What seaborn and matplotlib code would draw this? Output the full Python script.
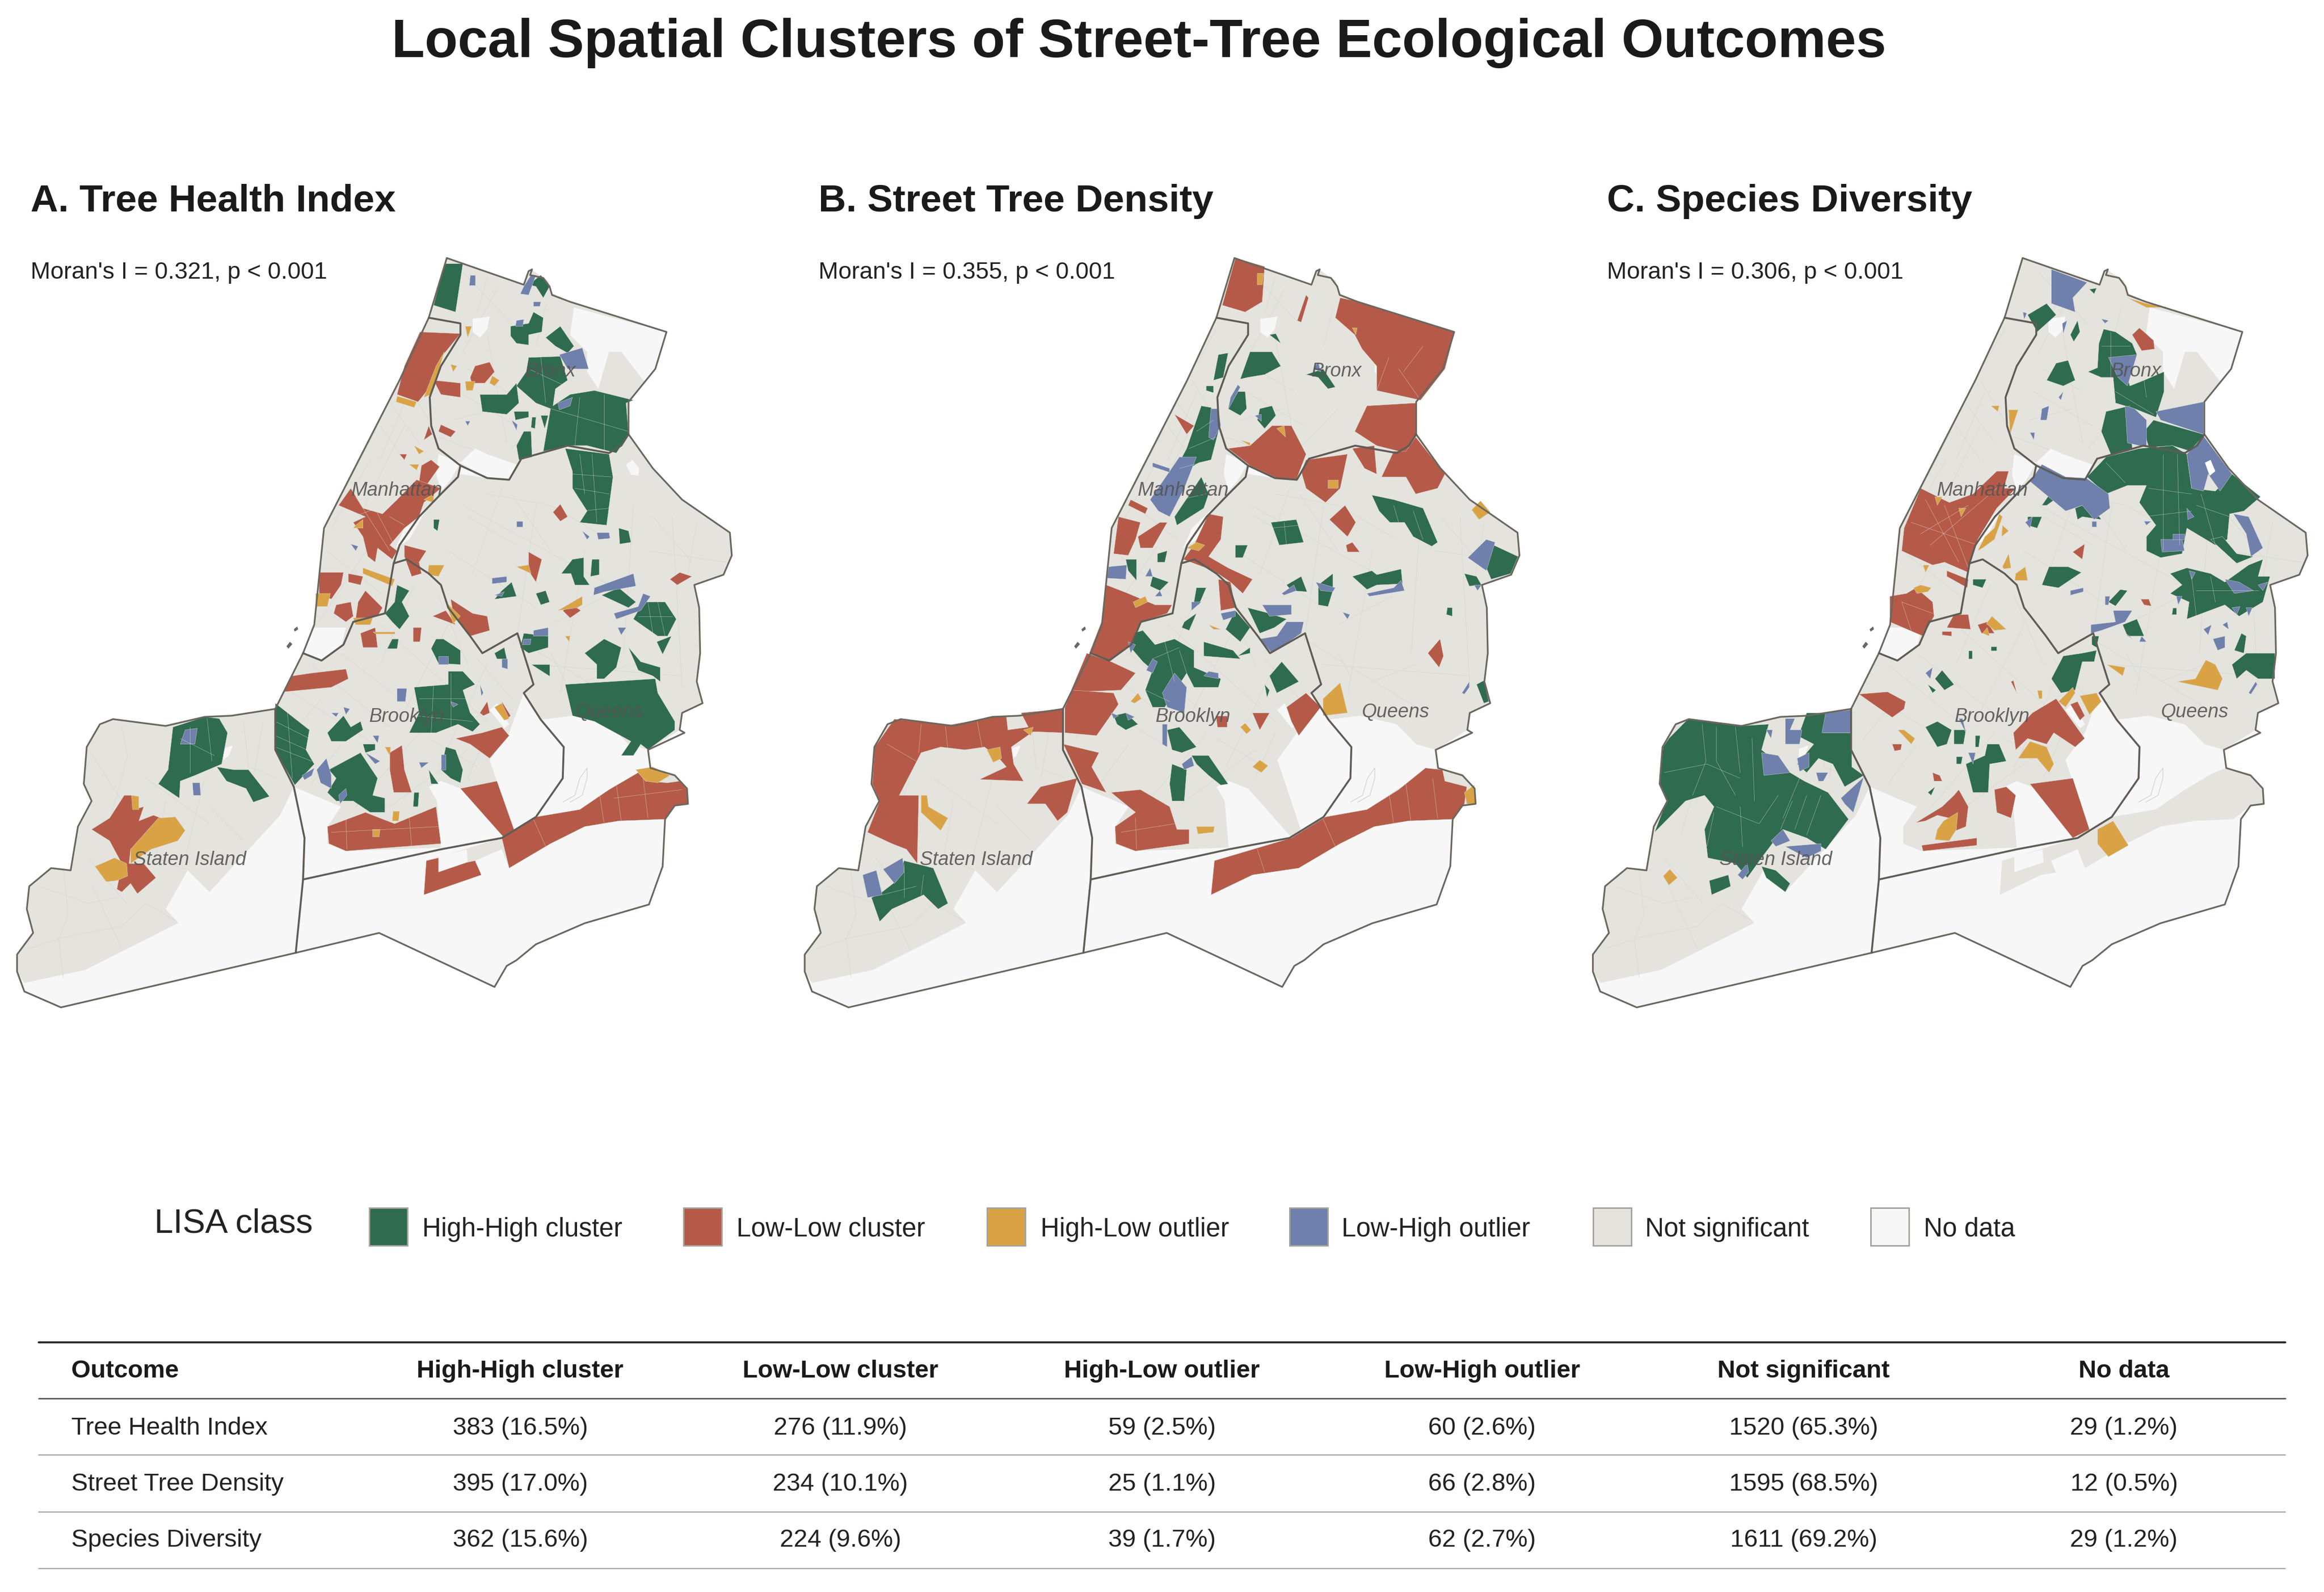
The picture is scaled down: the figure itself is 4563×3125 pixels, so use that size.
import matplotlib
matplotlib.use("Agg")
import matplotlib.pyplot as plt
from matplotlib.patches import Polygon, Rectangle
import seaborn as sns

sns.set_theme(style="white")
plt.rcParams['font.family'] = ['Liberation Sans', 'DejaVu Sans']

CLASSES = ["High-High cluster", "Low-Low cluster", "High-Low outlier", "Low-High outlier", "Not significant", "No data"]
COLORS = ["#2E6B4F", "#B55A48", "#D9A345", "#6E80AB", "#E4E3DE", "#F7F7F7"]
PAL = sns.color_palette(COLORS)
OUTCOMES = ["Tree Health Index", "Street Tree Density", "Species Diversity"]
PANEL_TITLES = ["A. Tree Health Index", "B. Street Tree Density", "C. Species Diversity"]
MORAN = ["Moran's I = 0.321, p < 0.001", "Moran's I = 0.355, p < 0.001", "Moran's I = 0.306, p < 0.001"]
TABLE_HIGH_HIGH = ["383 (16.5%)", "395 (17.0%)", "362 (15.6%)"]
TABLE_LOW_LOW = ["276 (11.9%)", "234 (10.1%)", "224 (9.6%)"]
TABLE_HIGH_LOW = ["59 (2.5%)", "25 (1.1%)", "39 (1.7%)"]
TABLE_LOW_HIGH = ["60 (2.6%)", "66 (2.8%)", "62 (2.7%)"]
TABLE_NOT_SIG = ["1520 (65.3%)", "1595 (68.5%)", "1611 (69.2%)"]
TABLE_NO_DATA = ["29 (1.2%)", "12 (0.5%)", "29 (1.2%)"]

BOROUGH_NAMES = ["Bronx", "Manhattan", "Brooklyn", "Queens", "Staten Island"]
BOROUGH_XY = [(1130, 380), (815, 590), (835, 988), (1250, 980), (390, 1240)]

OUTER = [(917,185),(1075,232),(1085,208),(1092,205),(1088,215),(1115,220),(1128,235),(1133,250),(1170,262),(1368,315),(1345,380),(1290,438),(1290,495),(1340,555),(1400,610),(1498,668),(1502,708),(1485,742),(1425,760),(1435,800),(1437,880),(1430,930),(1442,968),(1400,985),(1395,1015),(1405,1020),(1330,1050),(1335,1082),(1385,1095),(1410,1118),(1412,1145),(1385,1148),(1365,1172),(1360,1255),(1332,1322),(1200,1355),(1100,1392),(1060,1420),(1040,1430),(1015,1467),(778,1372),(607,1407),(125,1503),(50,1475),(35,1440),(35,1410),(68,1372),(55,1330),(60,1290),(105,1258),(145,1262),(160,1185),(188,1140),(172,1110),(178,1045),(205,1005),(232,996),(340,1008),(420,992),(475,990),(565,978),(622,880),(645,830),(665,660),(820,400),(880,290)]
LINE_SI = [(565,978),(565,1050),(603,1115),(625,1205),(622,1278),(607,1407)]
LINE_SOUTH = [(622,1278),(905,1225),(1030,1205),(1100,1168),(1155,1100),(1157,1045),(1110,997),(1075,950),(1095,935),(1062,845),(990,880),(965,850),(920,800),(905,760),(880,740),(835,715),(808,722),(790,810),(725,825),(705,865),(660,893),(622,880)]
LINE_EAST_MN = [(880,290),(945,300),(945,320),(905,375),(882,430),(885,480),(900,520),(945,550),(940,570),(905,600),(860,640),(820,690),(808,722)]
LINE_BX = [(945,550),(1000,572),(1045,575),(1070,538),(1165,515),(1250,528),(1275,515),(1290,495)]

LAND_BRONX = [(917,185),(1075,232),(1090,205),(1125,225),(1130,245),(1170,262),(1368,315),(1345,380),(1290,438),(1290,495),(1275,515),(1250,528),(1165,515),(1070,538),(1045,575),(1000,572),(945,550),(900,520),(885,480),(882,430),(905,375),(945,320),(945,300),(880,290)]
LAND_MANHATTAN = [(880,290),(945,300),(945,320),(905,375),(882,430),(885,480),(900,520),(945,550),(940,570),(905,600),(860,640),(820,690),(808,722),(790,810),(725,825),(705,865),(660,893),(622,880),(645,830),(665,660),(820,400)]
LAND_BROOKLYN = [(622,880),(660,893),(705,865),(725,825),(790,810),(808,722),(835,715),(880,740),(905,760),(920,800),(965,850),(990,880),(1062,845),(1095,935),(1075,950),(1045,1020),(1005,1068),(1020,1105),(1055,1195),(1030,1205),(905,1222),(710,1228),(672,1215),(672,1185),(700,1150),(603,1115),(565,1050),(565,978)]
LAND_QUEENS = [(1070,538),(1165,515),(1250,528),(1275,515),(1290,495),(1340,555),(1400,610),(1498,668),(1502,708),(1485,742),(1425,760),(1435,800),(1437,880),(1430,930),(1442,968),(1400,985),(1395,1015),(1330,1050),(1290,1040),(1250,1005),(1175,990),(1110,997),(1075,950),(1095,935),(1062,845),(990,880),(965,850),(920,800),(905,760),(880,740),(835,715),(808,722),(820,690),(860,640),(905,600),(945,565),(1000,572),(1045,575)]
LAND_ROCKAWAY = [(870,1305),(875,1245),(1030,1205),(1100,1168),(1190,1155),(1250,1120),(1305,1092),(1335,1082),(1385,1092),(1410,1118),(1412,1145),(1385,1148),(1350,1172),(1270,1175),(1200,1185),(1130,1215),(1045,1258),(955,1270)]
LAND_STATEN = [(35,1440),(35,1410),(68,1372),(55,1330),(60,1290),(105,1258),(145,1262),(160,1185),(188,1140),(172,1110),(178,1045),(205,1005),(232,996),(340,1008),(420,992),(475,990),(565,978),(565,1050),(603,1115),(575,1165),(430,1300),(365,1355),(175,1437),(50,1460)]
WHITE_PATCHES = [
 [(1178,272),(1368,315),(1345,380),(1325,405),(1275,350),(1250,350),(1228,415),(1205,385),(1205,350),(1170,320)],
 [(970,292),(1005,288),(1000,310),(985,325),(970,315)],
 [(945,545),(975,520),(1000,530),(1060,548),(1045,575),(1000,572)],
 [(900,530),(945,545),(925,575),(905,595),(895,565)],
 [(860,635),(880,620),(840,680),(812,695),(830,660)],
 [(640,835),(710,835),(700,870),(660,893),(622,880)],
 [(385,1262),(430,1300),(367,1355),(340,1330),(360,1300)],
 [(458,1048),(478,1042),(470,1060),(458,1068)],
 [(1285,548),(1298,540),(1312,555),(1310,568),(1295,566)],
 [(880,1115),(905,1105),(945,1118),(1035,1205),(905,1222),(897,1140)],
 [(1005,1068),(1048,1022),(1070,1020),(1110,997),(1157,1045),(1155,1100),(1100,1168),(1055,1195),(1020,1105)],
 [(1005,980),(1020,968),(1045,1005),(1035,1012)],
 [(900,1238),(958,1225),(960,1248),(900,1265)],
 [(975,1245),(1030,1225),(1045,1258),(988,1270)],
]
ISLANDS = [[(603,838),(610,833),(612,838),(605,842)], [(588,868),(595,860),(600,864),(592,872)]]
BAY_LINE = [(1155,1142),(1180,1130),(1190,1100),(1205,1082),(1205,1100),(1195,1130),(1170,1142)]
TRACT_LINES = [
 [(250,1010),(262,1060),(240,1130),(215,1200)],[(120,1380),(130,1450)],[(130,1262),(140,1340),(122,1380)],[(190,1290),(250,1400)],[(60,1400),(130,1380),(250,1360),(300,1320)],[(300,1320),(360,1350)],[(430,1150),(500,1210)],[(500,1000),(510,1080),(570,1100)],[(300,1100),(430,1180)],
 [(780,480),(830,540)],[(800,440),(860,510)],[(830,400),(880,470)],[(680,600),(800,680)],[(670,700),(790,780)],[(770,490),(690,620)],[(830,480),(750,620)],
 [(600,950),(770,1040)],[(640,900),(800,1010)],[(700,880),(880,1000)],[(780,830),(1000,1000)],[(850,760),(780,900)],[(920,830),(820,1000)],[(1000,900),(900,1080)],[(800,1150),(960,1050)],[(730,1150),(860,1020)],
 [(950,620),(1250,760)],[(920,700),(1100,800)],[(1000,600),(1130,620),(1250,680)],[(1100,620),(1060,860)],[(1200,700),(1150,950)],[(1300,620),(1280,880)],[(1380,640),(1400,940)],[(1100,900),(1400,920)],[(1070,860),(1300,980)],[(1330,700),(1490,720)],
 [(1000,320),(1040,510)],[(1120,270),(1100,340)],[(940,420),(1060,480)],[(900,500),(1030,540)],[(1000,220),(980,280)],
 [(1030,590),(970,740)],[(960,640),(1060,690)],[(1050,600),(1130,700)],[(1240,780),(1130,830)],[(1340,640),(1420,720)],[(1430,650),(1410,750)],[(1130,880),(1160,930)],[(1200,930),(1290,900)],
 [(700,1040),(640,1110)],[(660,960),(590,1030)],[(880,1030),(980,1080)],[(1000,1020),(960,1100)],[(980,890),(1050,960)],[(900,780),(960,900)],
 [(780,540),(840,420)],[(680,660),(760,540)],[(650,830),(760,690)],[(840,370),(880,310)],
 [(950,210),(1050,300)],[(1020,240),(950,350)],[(1130,450),(1050,520)],[(960,380),(1040,420)],[(930,470),(1020,450)],
 [(190,1060),(250,1140)],[(80,1290),(180,1320),(240,1310)],[(180,1240),(260,1320)],[(340,1140),(320,1240),(380,1260)],[(420,1100),(380,1240)],[(540,1000),(520,1100)],
]
# Faint tract outlines inside the clusters
CELLS_A = [
 [(1175,565),(1255,570)],[(1180,590),(1250,600)],[(1195,630),(1250,625)],[(1215,530),(1225,650)],[(1190,530),(1200,600)],
 [(1130,450),(1290,490)],[(1190,430),(1180,515)],[(1240,425),(1240,525)],[(1085,380),(1160,410)],[(1110,360),(1120,440)],
 [(860,960),(960,960)],[(850,990),(970,1000)],[(890,935),(885,1020)],[(925,915),(925,1010)],
 [(565,1000),(635,1030)],[(565,1025),(630,1050)],[(565,1045),(640,1070)],[(590,985),(600,1100)],
 [(730,605),(800,700)],[(760,610),(815,700)],[(800,640),(830,655)],[(725,640),(790,620)],
 [(710,1170),(712,1225)],[(680,1195),(900,1185)],[(840,1170),(845,1220)],
 [(1095,1172),(1120,1220)],[(1230,1125),(1240,1180)],[(1265,1110),(1275,1175)],[(1320,1100),(1330,1170)],[(1260,1135),(1400,1120)],
 [(370,1030),(440,1060)],[(390,1010),(390,1090)],[(425,995),(435,1070)],
 [(1330,790),(1340,845)],[(1350,790),(1365,850)],[(1310,815),(1380,815)],
]
CELLS_B = [
 [(820,520),(875,500)],[(835,490),(870,470)],[(800,555),(865,540)],[(800,610),(855,600)],[(990,660),(1045,655)],[(1015,650),(1020,690)],
 [(1095,1172),(1120,1220)],[(1230,1125),(1240,1180)],[(1265,1110),(1275,1175)],[(1320,1100),(1330,1170)],[(960,1225),(975,1265)],
 [(270,1005),(265,1055)],[(200,1040),(260,1070)],[(320,1010),(325,1050)],[(385,1000),(395,1045)],
 [(1230,360),(1205,418)],[(1260,385),(1300,340)],[(1295,435),(1250,380)],
 [(745,890),(800,870)],[(770,860),(790,930)],[(800,875),(815,915)],[(730,945),(780,965)],
 [(235,1250),(235,1310)],[(275,1270),(270,1305)],[(190,1305),(260,1290)],
 [(1240,620),(1250,650)],[(1280,630),(1300,680)],[(710,1170),(712,1225)],[(680,1195),(790,1180)],
]
CELLS_C = [
 [(260,1005),(268,1070),(240,1130)],[(290,1010),(290,1070),(330,1130)],[(330,1010),(340,1090)],[(180,1090),(270,1075),(340,1100)],[(365,1030),(370,1140)],[(290,1150),(380,1180),(420,1130)],[(285,1160),(270,1220)],[(340,1150),(345,1220)],[(450,1140),(425,1190)],[(480,1130),(455,1190)],[(510,1130),(480,1200)],[(470,1090),(430,1170)],
 [(1200,590),(1290,600)],[(1190,640),(1290,630)],[(1230,530),(1230,700)],[(1260,530),(1265,690)],[(1310,600),(1340,690)],[(1110,545),(1150,580)],[(1300,620),(1370,640)],
 [(700,650),(840,690)],[(730,610),(800,720)],[(770,620),(820,730)],[(720,670),(820,620)],[(740,690),(880,590)],[(680,790),(745,810)],[(680,790),(700,840)],
 [(1130,420),(1210,460)],[(1190,400),(1195,430)],[(1100,340),(1160,340)],[(1120,315),(1120,400)],
 [(1290,745),(1300,815)],[(1330,745),(1340,790)],[(1300,770),(1430,770)],
]

# ---- Panel A, in its own crop coordinates
A_GREEN = [
 [(913,195),(950,195),(935,280),(890,268)],[(1085,232),(1110,215),(1128,235),(1115,255),(1100,235)],
 [(1048,305),(1085,300),(1095,280),(1115,290),(1112,315),(1085,320),(1085,338),(1060,335),(1048,322)],
 [(1120,325),(1150,305),(1178,340),(1165,352),(1140,340)],
 [(1085,360),(1150,358),(1165,400),(1140,415),(1135,445),(1170,425),(1220,418),(1300,435),(1285,440),(1290,495),(1265,528),(1205,515),(1165,515),(1115,525),(1130,450),(1100,440),(1060,410),(1080,385)],
 [(985,425),(1040,425),(1060,405),(1065,440),(1040,460),(990,455)],[(1055,455),(1085,455),(1085,465),(1058,470)],
 [(1075,490),(1090,490),(1092,535),(1065,540),(1060,515)],[(1092,465),(1100,465),(1098,485),(1090,483)],[(1110,462),(1125,462),(1118,485)],
 [(1160,520),(1250,530),(1258,570),(1245,655),(1190,650),(1205,630),(1175,590),(1175,560)],
 [(1270,660),(1290,665),(1295,685),(1272,688)],[(890,645),(902,645),(898,665),(890,660)],
 [(1175,715),(1198,712),(1198,745),(1210,760),(1180,760),(1172,740),(1152,740)],[(1215,715),(1230,715),(1230,742),(1212,745)],
 [(1030,770),(1050,755),(1060,780),(1015,785)],[(1100,775),(1120,770),(1128,790),(1110,795)],
 [(1320,790),(1365,790),(1388,820),(1370,850),(1350,850),(1300,820)],[(1270,765),(1305,790),(1290,800),(1235,778)],
 [(1348,860),(1378,850),(1360,882)],[(1200,880),(1240,855),(1275,870),(1265,905),(1240,925),(1225,925),(1225,900)],
 [(1290,870),(1315,895),(1355,905),(1355,930),(1340,920),(1310,910)],
 [(1160,935),(1345,925),(1350,950),(1385,1000),(1385,1015),(1330,1050),(1315,1040),(1300,1060),(1275,1060),(1295,1035),(1220,1000),(1175,990)],
 [(1090,900),(1128,900),(1128,920)],[(1075,845),(1125,850),(1125,870),(1085,880),(1068,870)],[(1015,880),(1035,870),(1040,890),(1020,890)],
 [(815,760),(840,770),(825,790),(840,815),(820,838),(805,825),(790,810),(810,790)],[(895,855),(910,855),(945,875),(945,900),(900,898),(885,872)],
 [(850,940),(920,935),(920,912),(950,912),(975,935),(950,945),(965,985),(985,1005),(970,1018),(940,1005),(895,1020),(840,1020),(860,985)],
 [(672,1020),(705,990),(720,1010),(740,1000),(745,1015),(710,1035),(680,1035)],[(565,968),(635,1015),(628,1050),(645,1075),(605,1112),(565,1050)],
 [(675,1085),(740,1055),(775,1100),(765,1130),(790,1135),(790,1160),(760,1160),(725,1140),(690,1140),(672,1125),(690,1100)],
 [(745,1040),(770,1040),(770,1050),(750,1055)],[(915,1045),(935,1050),(950,1085),(945,1108),(925,1100),(905,1085)],[(880,1085),(900,1110),(885,1110)],
 [(850,1125),(860,1125),(858,1150),(848,1150)],[(805,855),(818,855),(815,872),(795,872)],
 [(355,1010),(420,992),(450,995),(467,1020),(455,1075),(400,1095),(370,1105),(368,1135),(325,1110),(345,1085)],
 [(445,1080),(480,1085),(510,1085),(553,1132),(520,1142),(505,1118),(465,1105)],
]
A_RED = [
 [(862,315),(945,318),(905,360),(875,420),(858,438),(815,425),(830,375)],[(890,400),(945,405),(945,430),(905,425)],
 [(965,395),(975,375),(1005,368),(1015,385),(995,405),(968,405)],[(880,480),(887,495),(870,505)],[(905,478),(935,490),(925,500),(900,490)],
 [(820,530),(835,530),(830,540)],[(865,550),(885,540),(902,552),(875,585),(860,580)],
 [(720,590),(745,625),(785,635),(815,610),(855,575),(905,590),(870,615),(860,640),(830,660),(800,690),(815,700),(805,715),(775,695),(770,720),(755,710),(745,675),(725,650),(750,640),(695,620)],
 [(830,690),(875,700),(860,720),(865,740),(845,745),(830,710)],[(655,738),(705,738),(700,760),(680,785),(655,775)],[(715,740),(745,745),(740,760),(715,755)],
 [(690,795),(720,790),(725,815),(710,825),(685,810)],[(735,790),(750,770),(785,800),(775,815),(730,820)],[(740,845),(770,835),(775,870),(745,870)],[(848,835),(865,835),(862,860),(848,860)],
 [(925,785),(970,810),(1000,815),(1005,840),(965,850),(930,810)],[(888,815),(915,805),(935,830)],[(1085,702),(1112,715),(1100,755),(1085,735)],
 [(1135,632),(1150,618),(1165,640),(1150,648)],[(1375,750),(1395,738),(1420,745),(1390,760)],[(1155,805),(1175,795),(1192,805),(1170,818)],
 [(583,948),(600,920),(640,915),(710,908),(715,925),(680,940)],[(800,1055),(825,1042),(830,1085),(845,1125),(808,1125),(800,1085)],
 [(935,1030),(990,1020),(1030,1010),(1045,1025),(1005,1065),(965,1040)],[(1030,965),(1048,990),(1038,998)],[(985,985),(1000,965),(1005,985),(992,990)],
 [(672,1185),(750,1160),(810,1180),(895,1150),(905,1215),(710,1228),(675,1215)],[(945,1118),(1020,1105),(1057,1195),(1035,1205)],
 [(1045,1258),(1030,1205),(1100,1168),(1190,1155),(1250,1120),(1310,1090),(1325,1105),(1370,1108),(1395,1105),(1410,1120),(1412,1145),(1385,1148),(1365,1172),(1270,1175),(1200,1185),(1130,1215)],
 [(870,1305),(875,1245),(900,1240),(900,1265),(958,1248),(975,1245),(988,1270)],
 [(255,1130),(270,1130),(275,1155),(295,1150),(285,1175),(315,1165),(330,1170),(285,1215),(268,1225),(265,1250),(295,1250),(320,1275),(282,1303),(268,1285),(250,1300),(240,1295),(250,1250),(225,1210),(188,1190),(225,1170)],
]
A_GOLD = [
 [(912,350),(885,425),(870,430),(895,375)],[(815,428),(855,438),(850,448),(813,438)],[(955,402),(975,402),(970,418),(957,418)],[(1010,392),(1025,400),(1015,410),(1005,405)],
 [(955,305),(968,305),(960,325)],[(925,372),(938,375),(930,385)],[(850,515),(870,525),(860,530)],[(840,548),(860,548),(855,558)],[(745,730),(810,750),(805,762),(745,740)],
 [(648,775),(678,775),(672,798),(648,798)],[(725,818),(765,818),(760,830),(730,830)],[(765,842),(810,842),(810,846),(770,846)],[(880,725),(912,725),(900,745),(878,742)],
 [(1060,728),(1085,725),(1090,740)],[(1145,805),(1175,790),(1195,780),(1195,795),(1185,800)],[(1160,850),(1170,850),(1168,860)],[(1015,975),(1030,968),(1045,995),(1035,998)],
 [(270,1130),(285,1132),(285,1155),(272,1155)],[(325,1170),(360,1168),(380,1192),(365,1210),(310,1225),(268,1250),(268,1225)],[(195,1255),(235,1240),(260,1250),(262,1272),(240,1280),(218,1282)],
 [(807,1158),(820,1158),(818,1175),(805,1175)],[(1305,1085),(1340,1080),(1375,1095),(1350,1108),(1325,1105)],[(765,1190),(780,1190),(778,1203),(765,1203)],[(730,655),(745,645),(745,660),(725,660)],
 [(915,790),(945,815),(930,828)],[(790,1045),(802,1045),(800,1060)],[(870,610),(890,600),(890,615)],
]
A_BLUE = [
 [(1148,355),(1195,343),(1208,380),(1165,380)],[(1075,235),(1090,215),(1100,215),(1085,250),(1068,248)],[(965,215),(975,215),(975,233),(963,233)],[(1095,262),(1110,262),(1108,270),(1095,270)],
 [(1060,295),(1075,293),(1073,305),(1058,305)],[(1145,440),(1175,430),(1170,445),(1148,452)],[(1050,470),(1062,478),(1060,488)],[(955,472),(965,472),(960,480)],[(1060,648),(1072,648),(1072,658),(1060,658)],
 [(1010,748),(1040,745),(1040,755),(1010,758)],[(1015,778),(1035,772),(1030,780)],[(1225,668),(1250,668),(1252,678),(1228,680)],[(1195,665),(1210,675),(1205,680)],
 [(1220,765),(1300,740),(1305,762),(1240,772),(1218,778)],[(1260,810),(1310,798),(1320,775),(1335,780),(1315,805),(1265,820)],[(1268,835),(1285,835),(1275,848)],[(1075,855),(1090,855),(1088,865),(1072,865)],
 [(1095,840),(1125,835),(1125,850),(1095,850)],[(1030,890),(1042,890),(1042,908),(1030,905)],[(900,885),(920,885),(920,900),(900,900)],[(370,1040),(380,1015),(405,1012),(400,1040)],[(395,1108),(410,1108),(412,1130),(397,1130)],
 [(650,1085),(670,1065),(680,1095),(680,1118),(658,1108)],[(695,1130),(710,1118),(712,1130),(698,1145)],[(620,1095),(645,1082),(640,1095),(625,1103)],[(680,985),(695,985),(690,992)],[(705,975),(718,978),(710,988)],
 [(815,942),(835,942),(832,965),(815,965)],[(985,935),(992,950),(988,955)],[(765,1025),(778,1025),(775,1038)],[(750,1055),(780,1070),(770,1075)],[(860,1072),(880,1072),(865,1082)],[(905,1058),(915,1058),(915,1085),(905,1085)],[(720,688),(735,692),(730,700)],[(925,965),(940,970),(930,975)],
]
# ---- Panel B, in its own crop coordinates
B_GREEN = [
 [(1195,602),(1240,610),(1300,625),(1330,685),(1318,692),(1280,675),(1262,650),(1232,650),(1210,630)],[(988,650),(1040,645),(1055,685),(1005,690)],[(915,690),(940,690),(930,712),(915,712)],
 [(1155,745),(1195,735),(1205,742),(1255,732),(1258,758),(1205,760),(1185,768)],[(1020,760),(1050,745),(1062,772),(1030,770)],[(1085,760),(1115,740),(1115,770),(1105,798),(1085,795)],
 [(1430,705),(1445,690),(1495,710),(1480,740),(1440,750),(1430,730)],[(1385,740),(1410,745),(1420,760),(1395,762)],[(1350,800),(1360,800),(1360,815),(1348,812)],[(1410,935),(1425,928),(1435,965),(1425,968)],
 [(880,355),(900,352),(890,395),(870,400)],[(855,410),(870,410),(870,422),(855,418)],[(945,350),(990,350),(1008,375),(975,390),(940,395),(925,398)],[(920,420),(935,420),(938,450),(925,462),(900,450)],
 [(965,450),(990,445),(998,462),(975,485),(960,470)],[(985,320),(998,318),(1008,335)],[(1060,390),(1095,380),(1120,412),(1105,415),(1085,395)],
 [(845,445),(865,448),(880,490),(865,540),(840,545),(810,560),(790,560),(815,520)],[(790,640),(845,570),(860,600),(850,625),(795,655)],[(745,610),(770,590),(760,630)],
 [(690,715),(712,715),(712,752),(695,735)],[(755,705),(775,700),(770,720),(755,720)],[(745,745),(778,755),(760,770),(740,762)],
 [(705,845),(725,840),(750,865),(790,855),(830,875),(830,905),(885,925),(880,940),(830,940),(815,915),(770,975),(745,975),(730,945),(745,910),(725,895),(700,870)],
 [(850,860),(910,875),(925,890),(850,885)],[(920,885),(945,870),(945,880)],[(915,805),(945,835),(925,860),(895,838)],[(940,800),(985,810),(1020,820),(995,835),(965,845)],
 [(835,765),(855,765),(840,795),(830,790)],[(810,825),(835,810),(820,840),(805,835)],[(985,920),(1010,895),(1045,930),(1000,950)],[(975,935),(985,945),(980,958)],[(665,990),(690,985),(715,1005),(690,1015),(672,1005)],
 [(775,1015),(800,1010),(835,1045),(805,1055),(785,1050)],[(825,1060),(860,1060),(900,1110),(885,1112),(860,1095),(835,1075)],[(785,1075),(815,1085),(810,1140),(785,1140),(780,1110)],
 [(235,1245),(295,1258),(325,1320),(305,1330),(275,1305),(210,1330),(185,1352),(168,1310),(190,1300),(220,1280)],
]
B_RED = [
 [(915,185),(975,200),(970,262),(935,280),(888,268)],[(1130,255),(1170,262),(1365,315),(1345,380),(1295,435),(1205,418),(1205,375),(1175,345),(1160,320),(1120,290)],[(1060,250),(1065,255),(1050,298),(1042,295)],
 [(1185,445),(1285,440),(1285,495),(1265,528),(1205,515),(1160,490)],[(900,520),(945,515),(990,480),(1030,480),(1060,530),(1040,575),(1000,572),(945,550)],
 [(1060,540),(1145,530),(1130,590),(1100,615),(1060,590),(1050,560)],[(1155,520),(1200,515),(1205,565),(1180,555)],[(1215,570),(1240,525),(1265,525),(1285,500),(1345,565),(1330,590),(1285,600),(1265,570)],
 [(1108,645),(1140,620),(1162,650),(1145,675)],[(1142,690),(1155,685),(1170,702),(1145,702)],[(1310,880),(1335,855),(1342,885),(1333,905)],[(880,750),(905,755),(915,800),(885,805)],
 [(808,715),(830,690),(860,635),(890,640),(885,680),(860,710),(900,730),(950,750),(930,775),(905,755),(870,735)],[(790,460),(830,480),(815,495)],[(665,705),(675,640),(720,650),(710,680),(695,708)],
 [(715,675),(760,650),(775,650),(745,695),(720,695)],[(700,610),(735,625),(730,635),(695,620)],[(640,825),(650,760),(695,775),(750,795),(785,795),(775,810),(720,825),(705,860),(660,893),(615,880)],
 [(578,945),(610,880),(660,895),(685,905),(710,915),(680,945),(590,948)],[(565,975),(580,945),(665,950),(675,970),(630,1025),(565,1020)],[(562,1040),(635,1055),(620,1080),(650,1125),(600,1110)],
 [(660,1125),(720,1120),(780,1150),(795,1190),(820,1190),(820,1215),(710,1228),(670,1215),(668,1185),(710,1160)],[(1020,975),(1060,950),(1090,975),(1045,1025),(1030,1000)],
 [(875,990),(898,990),(898,1010),(878,1010)],[(950,985),(985,985),(965,1015)],
 [(865,1305),(872,1245),(1030,1205),(1100,1168),(1185,1155),(1250,1120),(1305,1082),(1340,1085),(1345,1105),(1390,1115),(1385,1145),(1362,1172),(1270,1175),(1200,1185),(1130,1215),(1045,1258),(950,1270)],
 [(175,1045),(215,996),(330,1006),(420,992),(445,992),(448,1015),(490,1010),(475,985),(560,978),(560,1020),(500,1018),(455,1045),(460,1075),(480,1105),(390,1102),(445,1080),(430,1065),(400,1045),(360,1050),(310,1045),(270,1055),(225,1130),(265,1130),(262,1250),(240,1225),(210,1215),(160,1195),(185,1140),(170,1110)],
 [(487,1145),(515,1115),(590,1100),(570,1160),(550,1175),(525,1145)],
]
B_GOLD = [
 [(1400,628),(1418,612),(1438,632),(1415,645)],[(960,212),(973,212),(970,232),(960,232)],[(1155,308),(1165,308),(1162,320)],[(925,505),(945,510),(945,515)],[(1000,485),(1015,480),(1018,500)],
 [(705,790),(730,780),(735,790),(710,800)],[(815,695),(835,685),(852,690),(840,700)],[(860,830),(885,838),(870,838)],[(700,965),(715,950),(722,960),(708,968)],[(925,1010),(935,1003),(947,1015),(938,1022)],
 [(950,1080),(965,1068),(982,1078),(968,1090)],[(835,1185),(872,1185),(870,1195),(838,1198)],[(1095,960),(1130,932),(1145,985),(1095,990)],[(1105,575),(1125,575),(1125,590),(1105,590)],[(1385,1125),(1405,1112),(1410,1145),(1390,1145)],
 [(405,1050),(432,1045),(435,1065),(418,1072)],[(270,1130),(282,1130),(285,1150),(325,1170),(310,1192),(270,1160)],[(480,1015),(500,1010),(495,1025)],
]
B_BLUE = [
 [(740,610),(800,535),(835,535),(810,590),(780,640),(757,630)],[(745,545),(780,555),(780,562),(745,552)],[(865,450),(880,450),(885,480),(870,505),(860,500)],[(655,728),(692,725),(690,750),(652,748)],
 [(955,462),(968,460),(968,472)],[(905,430),(920,408),(925,412),(900,452)],[(1075,380),(1085,368),(1090,385)],[(1010,775),(1035,760),(1040,770),(1015,778)],[(1080,755),(1120,765),(1115,772),(1090,770)],
 [(1185,775),(1240,765),(1255,752),(1262,770),(1190,780)],[(1392,712),(1430,680),(1448,685),(1430,735)],[(1405,760),(1420,760),(1412,770)],[(1135,808),(1150,812),(1145,820)],[(1380,950),(1395,930),(1395,940),(1385,952)],
 [(885,810),(915,805),(915,815),(890,822)],[(970,795),(1030,795),(1030,812),(985,815)],[(965,855),(1000,850),(1020,825),(1055,825),(1050,845),(990,880)],[(765,950),(790,915),(815,940),(810,985),(775,975)],
 [(860,912),(880,915),(880,925),(850,920)],[(745,890),(755,895),(745,915),(732,910)],[(695,860),(710,865),(700,880)],[(825,790),(845,790),(825,805)],[(740,730),(745,745),(730,745)],[(760,770),(765,780),(750,780)],
 [(150,1270),(178,1262),(190,1305),(160,1310)],[(192,1260),(232,1240),(235,1265),(215,1285)],[(765,1005),(775,1005),(775,1045),(765,1040)],[(805,1075),(825,1062),(830,1078),(810,1085)],[(660,985),(675,990),(665,995)],[(690,985),(708,992),(695,998)],
]
# ---- Panel C, in its own crop coordinates
C_GREEN = [
 [(190,1030),(230,996),(340,1008),(400,1005),(385,1050),(445,1090),(475,1105),(525,1125),(568,1172),(520,1225),(480,1205),(430,1190),(385,1240),(355,1275),(330,1250),(272,1240),(265,1190),(285,1150),(265,1130),(225,1140),(160,1195),(185,1140),(170,1110),(178,1045)],
 [(465,1020),(480,985),(525,985),(515,1020),(575,1020),(575,1080),(600,1095),(560,1115),(535,1075),(505,1065),(480,1090),(460,1075),(495,1040),(460,1025)],
 [(275,1280),(315,1270),(320,1290),(280,1305)],[(385,1255),(415,1262),(445,1285),(435,1300),(395,1275)],
 [(945,285),(985,265),(1005,285),(965,315)],[(1035,320),(1050,295),(1055,315),(1042,332)],[(985,400),(1005,370),(1030,365),(1045,400),(1020,410)],
 [(1072,385),(1092,378),(1095,335),(1105,310),(1130,315),(1165,335),(1175,355),(1150,380),(1160,410),(1190,400),(1232,385),(1232,420),(1215,465),(1170,450),(1130,440),(1125,395),(1100,395)],
 [(1075,240),(1090,238),(1085,248)],[(1110,455),(1160,445),(1165,520),(1120,530),(1100,490)],[(1190,490),(1210,470),(1315,495),(1300,528),(1250,515),(1200,518)],
 [(1070,570),(1110,535),(1180,520),(1250,515),(1280,530),(1290,590),(1340,595),(1375,565),(1435,605),(1400,630),(1370,635),(1365,680),(1340,690),(1280,660),(1270,705),(1225,712),(1195,700),(1195,675),(1215,655),(1180,615),(1195,585),(1155,585),(1110,600)],
 [(975,620),(1000,590),(1010,605),(985,620)],[(1045,625),(1075,615),(1100,645),(1060,640),(1050,645)],[(975,760),(990,728),(1030,728),(1058,738),(1010,765)],[(945,640),(975,640),(965,660),(945,655)],
 [(1330,680),(1355,675),(1385,705),(1420,710),(1385,722)],
 [(1245,740),(1280,730),(1330,740),(1360,755),(1410,725),(1440,715),(1430,745),(1455,745),(1440,790),(1420,800),(1390,815),(1360,795),(1280,820),(1285,790),(1245,775),(1270,760)],
 [(1250,800),(1258,800),(1258,812),(1248,812)],[(1380,875),(1395,845),(1405,850),(1400,880)],[(1375,900),(1405,880),(1465,880),(1465,925),(1430,925),(1405,910),(1385,925)],[(1115,790),(1140,768),(1155,770),(1130,797)],
 [(1145,830),(1175,820),(1190,850),(1155,850)],[(1080,850),(1095,850),(1090,870),(1080,865)],[(830,750),(858,750),(850,765),(830,760)],
 [(995,925),(1020,885),(1060,880),(1090,875),(1085,895),(1060,895),(1045,945),(1015,950)],[(820,875),(828,875),(828,890),(820,890)],[(868,868),(880,868),(880,875),(868,875)],[(750,925),(765,910),(790,935),(770,945)],[(735,935),(752,945),(745,950)],
 [(730,1010),(755,1000),(785,1015),(775,1040),(755,1045)],[(790,1015),(815,1015),(810,1040),(790,1040)],[(835,1025),(845,1025),(842,1045),(835,1045)],
 [(815,1075),(855,1060),(860,1040),(885,1040),(900,1070),(865,1075),(862,1125),(830,1125)],[(795,1062),(808,1062),(805,1075),(795,1075)],[(735,1125),(750,1115),(742,1130)],
]
C_RED = [
 [(720,590),(780,615),(830,600),(880,560),(905,560),(895,590),(920,590),(880,625),(840,680),(825,720),(820,738),(770,720),(745,725),(680,700),(685,660)],[(775,735),(820,750),(818,765),(775,745)],
 [(655,780),(690,775),(710,765),(745,790),(748,815),(725,850),(655,825)],[(775,835),(790,812),(820,812),(825,838)],[(765,842),(785,842),(785,850),(765,848)],[(840,830),(860,825),(875,845),(848,845)],
 [(1180,308),(1190,315),(1210,330),(1212,345),(1185,348),(1165,320)],[(1040,702),(1065,688),(1060,715)],[(1183,785),(1200,785),(1205,797),(1190,795)],[(590,952),(650,948),(688,965),(685,978),(660,993)],[(660,1040),(680,1040),(678,1050),(665,1052)],[(910,930),(915,928),(922,950)],
 [(915,1020),(955,985),(1005,960),(1065,1030),(1045,1045),(1000,1020),(985,1040),(945,1030),(920,1050)],[(1035,970),(1050,965),(1065,990),(1055,998)],[(950,1110),(1040,1100),(1075,1190),(1040,1205)],[(875,1120),(900,1115),(920,1130),(910,1170),(880,1160)],
 [(710,1178),(765,1150),(790,1130),(800,1120),(820,1150),(815,1185),(785,1195),(780,1170),(755,1165),(730,1175)],[(722,1218),(838,1205),(838,1218),(725,1228)],[(745,1090),(760,1095),(765,1105),(748,1105)],
]
C_GOLD = [
 [(868,445),(885,445),(882,455)],[(905,452),(925,452),(908,495)],[(1155,255),(1195,265),(1240,272),(1195,272)],[(750,605),(765,605),(755,620)],[(800,625),(815,625),(805,640)],
 [(885,635),(892,640),(875,680),(850,695),(840,700),(855,675),(875,660)],[(892,655),(905,665),(890,675)],[(892,728),(905,705),(910,730),(895,732)],[(920,740),(940,728),(945,752),(918,752)],[(725,725),(738,725),(730,738)],[(705,765),(720,760),(742,765),(735,772),(712,775)],
 [(858,828),(870,815),(900,838),(875,840)],[(850,845),(860,835),(865,850)],[(1112,900),(1150,905),(1145,920)],[(1260,930),(1298,925),(1320,892),(1340,900),(1355,925),(1345,945)],[(1010,965),(1040,940),(1045,950),(1025,975)],[(1055,955),(1090,950),(1100,965),(1075,988)],[(965,945),(975,945),(975,960),(968,960)],
 [(925,1065),(950,1035),(985,1045),(1000,1075),(990,1090),(965,1065)],[(672,1015),(685,1015),(708,1030),(700,1040)],[(178,1272),(192,1260),(208,1275),(190,1288)],[(768,1175),(798,1160),(795,1190),(780,1210),(750,1208),(755,1190)],[(1092,1190),(1125,1175),(1157,1218),(1115,1238),(1092,1215)],
]
C_BLUE = [
 [(995,205),(1070,228),(1040,255),(1045,280),(995,265)],[(935,280),(943,282),(938,293)],[(1018,300),(1028,295),(1020,318)],[(1100,292),(1115,295),(1108,300)],[(1115,360),(1175,355),(1155,410),(1135,395)],[(1010,430),(1020,420),(1015,435)],
 [(975,450),(990,445),(985,470),(972,470)],[(950,492),(960,492),(958,505)],[(1215,455),(1315,438),(1315,495),(1225,470)],[(1150,445),(1170,450),(1195,470),(1195,518),(1155,510)],
 [(950,578),(975,548),(1025,570),(1068,572),(1115,600),(1118,625),(1085,645),(1060,620),(1025,630)],[(1280,530),(1315,498),(1375,565),(1350,595),(1325,565),(1315,595),(1290,590)],[(1280,625),(1295,640),(1282,645)],[(1378,635),(1410,640),(1440,695),(1415,710),(1405,670)],
 [(1225,680),(1270,680),(1275,700),(1228,702)],[(1250,670),(1275,670),(1275,680),(1250,680)],[(1078,830),(1130,825),(1125,805),(1165,805),(1150,825),(1100,840),(1078,845)],[(1150,845),(1160,850),(1165,855)],[(1185,850),(1195,860),(1180,860)],[(940,650),(955,640),(950,660)],
 [(1035,770),(1062,765),(1062,772),(1035,778)],[(1108,780),(1118,780),(1115,795),(1108,795)],[(1360,750),(1390,755),(1420,770),(1380,775)],[(1315,838),(1332,830),(1325,848)],[(1335,855),(1360,850),(1360,870),(1345,875)],[(1355,830),(1365,825),(1368,838)],
 [(1375,800),(1392,798),(1385,812)],[(1405,800),(1418,800),(1410,815)],[(1430,760),(1450,755),(1440,770)],[(1410,950),(1425,930),(1428,935),(1415,952)],[(1285,735),(1298,738),(1290,750)],[(1258,780),(1270,780),(1262,795)],[(1080,648),(1090,648),(1090,658),(1080,658)],[(1190,648),(1205,648),(1195,655)],
 [(385,1055),(420,1060),(445,1090),(390,1095)],[(435,995),(455,995),(445,1015),(470,1015),(465,1040),(435,1040)],[(395,1015),(408,1015),(405,1030)],[(460,1065),(485,1055),(485,1080),(465,1088)],[(500,1090),(525,1090),(515,1105),(505,1105)],
 [(520,985),(572,980),(572,1020),(512,1020)],[(552,1135),(600,1098),(578,1160),(560,1145)],[(435,1220),(510,1215),(510,1228),(480,1240)],[(405,1210),(430,1190),(445,1210),(415,1220)],[(335,1270),(355,1250),(358,1265),(345,1278)],[(730,915),(745,905),(740,925)],[(800,995),(808,995),(815,1020)],[(820,1055),(835,1055),(830,1075)],
]
C_HOLE = [[(1318,545),(1330,540),(1340,560),(1328,568)]]

FIG_W, FIG_H = 4563, 3125
ZOOM = 1568
PANELS = [
 dict(left=0, dx=0.0, sx=1.0, layers=[(A_GREEN,0),(A_RED,1),(A_GOLD,2),(A_BLUE,3)], cells=CELLS_A, holes=[]),
 dict(left=1546.5, dx=4.0, sx=1.0, layers=[(B_GREEN,0),(B_RED,1),(B_GOLD,2),(B_BLUE,3)], cells=CELLS_B, holes=[]),
 dict(left=3094, dx=5.7, sx=0.9753, layers=[(C_GREEN,0),(C_RED,1),(C_GOLD,2),(C_BLUE,3)], cells=CELLS_C, holes=C_HOLE),
]

fig = plt.figure(figsize=(FIG_W/300, FIG_H/300), dpi=300, facecolor="white")
INK = "#6B675F"

def poly(ax, pts, fc, ec="none", lw=0, z=1):
    patch = Polygon(pts, closed=True, facecolor=fc, edgecolor=ec, linewidth=lw, zorder=z, joinstyle="round")
    ax.add_patch(patch)
    return patch

for i, p in enumerate(PANELS):
    ax = fig.add_axes([p["left"]/FIG_W, 1-2050/FIG_H, 1500/FIG_W, 1750/FIG_H])
    ax.set_xlim(0, ZOOM); ax.set_ylim(ZOOM, 0)
    ax.patch.set_alpha(0)
    sns.despine(ax=ax, left=True, bottom=True)
    ax.set_xticks([]); ax.set_yticks([])
    base = poly(ax, OUTER, PAL[5], z=1)
    for land in (LAND_BRONX, LAND_MANHATTAN, LAND_BROOKLYN, LAND_QUEENS, LAND_ROCKAWAY, LAND_STATEN):
        poly(ax, land, PAL[4], z=2)
    for tl in TRACT_LINES:
        ln, = ax.plot(*zip(*tl), color="#D8D7D1", lw=0.22, zorder=2.2)
        ln.set_clip_path(base)
    for w in WHITE_PATCHES:
        poly(ax, w, PAL[5], z=2.5)
    tr = lambda pts: [(p["dx"] + p["sx"]*x, y) for x, y in pts]
    for group, c in p["layers"]:
        for g in group:
            poly(ax, tr(g), PAL[c], ec="#DADAD5", lw=0.12, z=3 + c*0.1)
    for cl in p["cells"]:
        ln, = ax.plot(*zip(*tr(cl)), color="#E8E6E0", lw=0.18, alpha=0.6, zorder=3.45)
        ln.set_clip_path(base)
    for h in p["holes"]:
        poly(ax, tr(h), "white", z=3.5)
    ax.plot(*zip(*BAY_LINE), color="#CFCFCA", lw=0.3, zorder=3.6)
    for isl in ISLANDS:
        poly(ax, isl, INK, z=4)
    poly(ax, OUTER, "none", ec=INK, lw=0.8, z=5)
    for line in (LINE_SI, LINE_SOUTH, LINE_EAST_MN, LINE_BX):
        ax.plot(*zip(*line), color="#5F5C55", lw=0.9, zorder=5.1, solid_joinstyle="round")
    for name, (x, y) in zip(BOROUGH_NAMES, BOROUGH_XY):
        off = {0: 0, 1: -3, 2: 20}[i]
        ax.text(x + off, y + 4, name, ha="center", va="center", style="italic", fontsize=9.1, color="#555555", alpha=0.9, zorder=6)

# Full-figure overlay for text, legend and table (pixel scale)
ov = fig.add_axes([0, 0, 1, 1])
ov.set_xlim(0, FIG_W); ov.set_ylim(FIG_H, 0)
ov.patch.set_alpha(0)
sns.despine(ax=ov, left=True, bottom=True)
ov.set_xticks([]); ov.set_yticks([])

ov.text(2236, 85, "Local Spatial Clusters of Street-Tree Ecological Outcomes", ha="center", va="center", fontsize=25.5, fontweight="bold", color="#1A1A1A")
for title, moran, x in zip(PANEL_TITLES, MORAN, [60, 1607, 3155]):
    ov.text(x, 395, title, ha="left", va="center", fontsize=18, fontweight="bold", color="#1A1A1A")
    ov.text(x, 535, moran, ha="left", va="center", fontsize=11.2, color="#222222")

ov.text(303, 2403, "LISA class", ha="left", va="center", fontsize=16, color="#222222")
SWATCH_X = [249, 461, 666, 870, 1075, 1262]
TEXT_X = [285, 497, 702, 905, 1110, 1298]
K = FIG_W / ZOOM
for c, (name, sx_, tx) in enumerate(zip(CLASSES, SWATCH_X, TEXT_X)):
    ov.add_patch(Rectangle((sx_*K, 2371), 75, 74, facecolor=PAL[c], edgecolor="#A5A39C", linewidth=0.7))
    ov.text(tx*K, 2413, name, ha="left", va="center", fontsize=12.3, color="#222222")

COL_X = [351, 567, 784, 1000, 1217, 1433]
TABLE_COLS = [TABLE_HIGH_HIGH, TABLE_LOW_LOW, TABLE_HIGH_LOW, TABLE_LOW_HIGH, TABLE_NOT_SIG, TABLE_NO_DATA]
X0, X1 = 76, 4487
ov.plot([X0, X1], [2635, 2635], color="#2B2B2B", lw=0.95)
ov.plot([X0, X1], [2745, 2745], color="#5F5F5A", lw=0.7)
for y in (2856, 2968, 3079):
    ov.plot([X0, X1], [y, y], color="#A5A39C", lw=0.55)
ov.text(140, 2692, "Outcome", ha="left", va="center", fontsize=11.7, fontweight="bold", color="#1A1A1A")
for name, x in zip(CLASSES, COL_X):
    ov.text(x*K, 2692, name, ha="center", va="center", fontsize=11.7, fontweight="bold", color="#1A1A1A")
for r, (outcome, y) in enumerate(zip(OUTCOMES, [2803, 2913, 3024])):
    ov.text(140, y, outcome, ha="left", va="center", fontsize=11.7, color="#222222")
    for col, x in zip(TABLE_COLS, COL_X):
        ov.text(x*K, y, col[r], ha="center", va="center", fontsize=11.7, color="#222222")

fig.savefig("out.png", dpi=300, facecolor="white")
